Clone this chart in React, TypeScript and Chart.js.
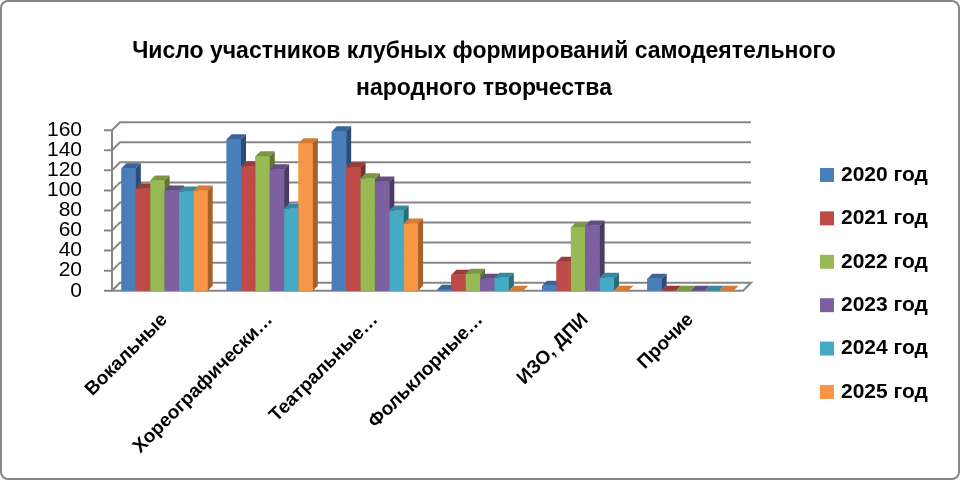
import { useEffect, useRef } from "react";
import { Chart, registerables } from "chart.js";

Chart.register(...registerables);

const titleLines = [
  "Число участников клубных формирований самодеятельного",
  "народного творчества",
];
const categories = ["Вокальные", "Хореографически…", "Театральные…", "Фольклорные…", "ИЗО, ДПИ", "Прочие"];
const seriesNames = ["2020 год", "2021 год", "2022 год", "2023 год", "2024 год", "2025 год"];
const values2020 = [122, 151, 159, 1, 5, 12];
const values2021 = [102, 124, 123, 16, 29, 0];
const values2022 = [110, 134, 112, 17, 63, 0];
const values2023 = [100, 121, 109, 12, 65, 0];
const values2024 = [99, 82, 80, 13, 13, 0];
const values2025 = [100, 147, 67, 0, 0, 0];
const yTicks = [0, 20, 40, 60, 80, 100, 120, 140, 160];

const allValues = [values2020, values2021, values2022, values2023, values2024, values2025];
const fronts = ["#4a7ebb", "#be4b48", "#98b954", "#7d60a0", "#46aac5", "#f79646"];
const tops = ["#3a6598", "#9a3b39", "#7a9743", "#634c82", "#3689a0", "#d47b34"];
const sides = ["#2c4d75", "#7e2f2d", "#5e7533", "#4b3a63", "#2a6b7d", "#a8612a"];

const FONT = "'Liberation Sans', Arial, sans-serif";
const DEPTH = 5;
const WALL = 8;

function poly(ctx: CanvasRenderingContext2D, pts: number[][], color: string) {
  ctx.beginPath();
  ctx.moveTo(pts[0][0], pts[0][1]);
  for (let i = 1; i < pts.length; i++) ctx.lineTo(pts[i][0], pts[i][1]);
  ctx.closePath();
  ctx.fillStyle = color;
  ctx.fill();
}

// back wall, gridlines and floor
const walls = {
  id: "walls",
  beforeDatasetsDraw(chart: any) {
    const { ctx, chartArea } = chart;
    const { left, right, bottom } = chartArea;
    const y = chart.scales.y;
    ctx.save();
    ctx.strokeStyle = "#868686";
    ctx.lineWidth = 2;
    yTicks.forEach((v) => {
      const py = y.getPixelForValue(v);
      ctx.beginPath();
      ctx.moveTo(left - 8, py);
      ctx.lineTo(left, py);
      ctx.lineTo(left + WALL, py - WALL);
      if (v > 0) ctx.lineTo(right + WALL, py - WALL);
      ctx.stroke();
    });
    ctx.beginPath();
    ctx.moveTo(left, bottom);
    ctx.lineTo(left, y.getPixelForValue(160));
    ctx.stroke();
    // floor
    ctx.beginPath();
    ctx.moveTo(left, bottom);
    ctx.lineTo(right, bottom);
    ctx.lineTo(right + WALL, bottom - WALL);
    ctx.lineTo(left + WALL, bottom - WALL);
    ctx.closePath();
    ctx.fillStyle = "#ffffff";
    ctx.fill();
    ctx.stroke();
    ctx.restore();
  },
};

// gives each bar a top and a side face
const bars3d = {
  id: "bars3d",
  afterDatasetsDraw(chart: any) {
    const ctx = chart.ctx;
    ctx.save();
    chart.data.datasets.forEach((_: any, i: number) => {
      const meta = chart.getDatasetMeta(i);
      meta.data.forEach((el: any) => {
        const { x, y, base, width } = el.getProps(["x", "y", "base", "width"], true);
        const l = x - width / 2;
        const r = x + width / 2;
        ctx.fillStyle = fronts[i];
        ctx.fillRect(l, y, width, base - y);
        poly(ctx, [[l, y], [l + DEPTH, y - DEPTH], [r + DEPTH, y - DEPTH], [r, y]], tops[i]);
        poly(ctx, [[r, y], [r + DEPTH, y - DEPTH], [r + DEPTH, base - DEPTH], [r, base]], sides[i]);
      });
    });
    ctx.restore();
  },
};

// legend on the right, drawn on the canvas
const sideLegend = {
  id: "sideLegend",
  afterDraw(chart: any) {
    const { ctx, chartArea } = chart;
    const n = chart.data.datasets.length;
    const step = 43.4;
    const x0 = chartArea.right + 77;
    const yMid = (chartArea.top + chartArea.bottom) / 2 + 73;
    ctx.save();
    ctx.font = `bold 21px ${FONT}`;
    ctx.textBaseline = "middle";
    ctx.textAlign = "left";
    chart.data.datasets.forEach((ds: any, i: number) => {
      const cy = yMid + (i - (n - 1) / 2) * step;
      ctx.fillStyle = fronts[i];
      ctx.fillRect(x0, cy - 7, 14, 14);
      ctx.fillStyle = "#000000";
      ctx.fillText(ds.label, x0 + 21, cy);
    });
    ctx.restore();
  },
};

export default function App() {
  const canvasRef = useRef<HTMLCanvasElement>(null);
  const chartRef = useRef<Chart | null>(null);

  useEffect(() => {
    document.body.style.margin = "0";
    if (!canvasRef.current) return;

    chartRef.current?.destroy();
    chartRef.current = new Chart(canvasRef.current, {
      type: "bar",
      data: {
        labels: categories,
        datasets: seriesNames.map((name, i) => ({
          label: name,
          data: allValues[i],
          backgroundColor: fronts[i],
          borderWidth: 0,
          categoryPercentage: 0.82,
          barPercentage: 1,
          yAxisID: "y",
        })),
      },
      options: {
        responsive: true,
        maintainAspectRatio: false,
        animation: false,
        layout: { padding: { left: 8, right: 0, top: 0, bottom: 10 } },
        plugins: {
          legend: { display: false },
          tooltip: { enabled: false },
          title: {
            display: true,
            text: titleLines,
            color: "#000000",
            font: { family: FONT, size: 23, weight: "bold", lineHeight: 1.57 },
            padding: { top: 32, bottom: 24 },
          },
        },
        scales: {
          x: {
            grid: { display: false },
            border: { display: false },
            ticks: {
              color: "#000000",
              font: { family: FONT, size: 19, weight: "bold" },
              minRotation: 45,
              maxRotation: 45,
              autoSkip: false,
              padding: 10,
            },
          },
          y: {
            min: 0,
            max: 160,
            grid: { display: false },
            border: { display: false },
            afterFit: (s: any) => {
              s.width = 102;
            },
            ticks: {
              stepSize: 20,
              autoSkip: false,
              color: "#000000",
              font: { family: FONT, size: 21 },
              padding: 22,
            },
          },
          // empty box on the right that leaves room for the legend
          room: {
            type: "linear",
            position: "right",
            display: true,
            grid: { display: false },
            border: { display: false },
            ticks: { display: false },
            afterFit: (s: any) => {
              s.width = 215;
            },
          },
        },
      },
      plugins: [walls, bars3d, sideLegend],
    });

    return () => {
      chartRef.current?.destroy();
    };
  }, []);

  return (
    <div
      style={{
        position: "relative",
        width: 960,
        height: 480,
        boxSizing: "border-box",
        border: "2px solid #868686",
        borderRadius: 8,
        background: "#ffffff",
      }}
    >
      <canvas ref={canvasRef} />
    </div>
  );
}
